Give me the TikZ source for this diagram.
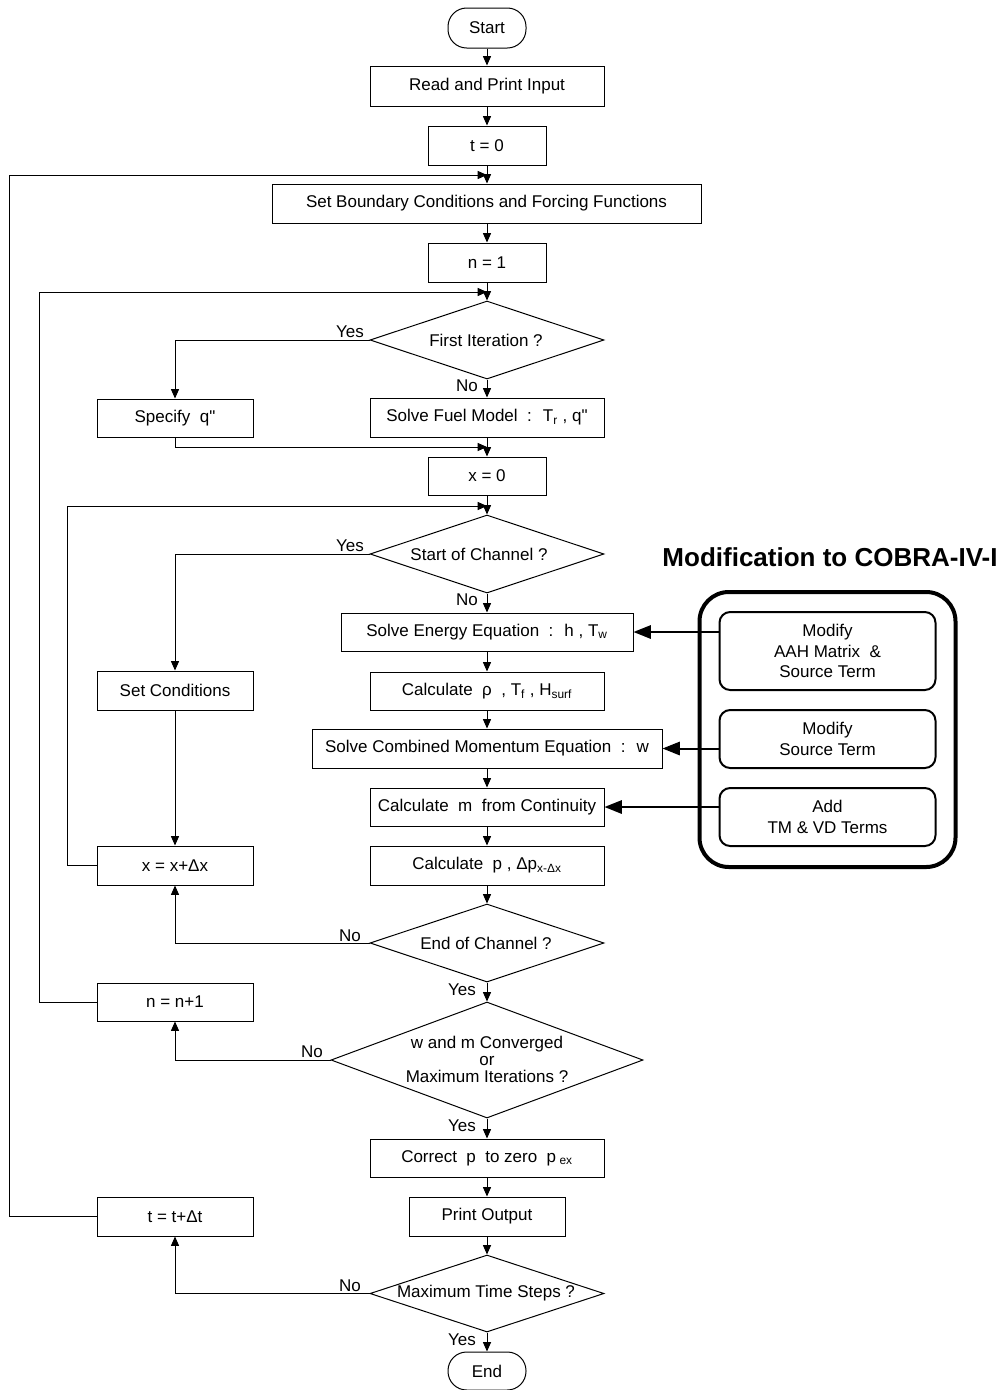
\documentclass[tikz,border=0pt]{standalone}
\usepackage{fontspec}
\setmainfont{Liberation Sans}[Ligatures=TeXOff]
\usetikzlibrary{arrows.meta,shapes.geometric}
\newcommand\fsz{\fontsize{12.75}{13}\selectfont}
\newcommand\sbs[1]{\textsubscript{#1}}
\begin{document}
\begin{tikzpicture}[x=0.75pt,y=-0.75pt,
 every node/.style={font=\fsz, inner sep=0pt},
 pbox/.style n args={2}{draw, line width=0.75pt, rectangle, minimum width=#1*0.75pt, minimum height=#2*0.75pt},
 term/.style n args={2}{pbox={#1}{#2}, rounded corners=14pt},
 dia/.style n args={2}{draw, line width=0.75pt, diamond, minimum width=#1*0.75pt, minimum height=#2*0.75pt},
 flow/.style={line width=0.75pt, -{Triangle[length=7pt,width=6pt]}},
 plain/.style={line width=0.75pt},
 mbox/.style n args={2}{pbox={#1}{#2}, line width=1.5pt, rounded corners=8pt, align=center, font=\fontsize{12.75}{15.4}\selectfont},
 bigarrow/.style={line width=1.5pt, -{Triangle[length=13pt,width=10pt]}}
]
\useasboundingbox (0,0) rectangle (1002,1390);

% main column
\node[term={78}{40}] (start) at (487,28) {Start};
\node[pbox={234}{40}] (read) at (487,86) {Read and Print Input};
\node[pbox={118}{39}] (t0) at (487,145.5) {t = 0};
\node[pbox={429}{39}] (sbc) at (486.5,203.5) {Set Boundary Conditions and Forcing Functions};
\node[pbox={118}{39}] (n1) at (487,262.5) {n = 1};
\node[dia={234}{78}] (d1) at (487,340) {};
\node (d1t) at (486,340) {First Iteration ?};
\node[pbox={156}{38}] (spec) at (175,418) {Specify~ q"};
\node[pbox={234}{39}] (fuel) at (487,417.5) {Solve Fuel Model~ :~ T\sbs{r} , q"};
\node[pbox={118}{38}] (x0) at (487,476) {x = 0};
\node[dia={234}{78}] (d2) at (487,554) {};
\node (d2t) at (479,554) {Start of Channel ?};
\node[pbox={292}{38}] (energy) at (487,632) {Solve Energy Equation~ :~ h , T\sbs{w}};
\node[pbox={156}{39}] (setc) at (175,690.5) {Set Conditions};
\node[pbox={234}{38}] (calcrho) at (487,691) {Calculate~ ρ~ , T\sbs{f} , H\sbs{surf}};
\node[pbox={350}{39}] (mom) at (487,748.5) {Solve Combined Momentum Equation~ :~ w};
\node[pbox={234}{38}] (cont) at (487,807) {Calculate~ m~ from Continuity};
\node[pbox={156}{39}] (xdx) at (175,865.5) {x = x+Δx};
\node[pbox={234}{39}] (calcp) at (487,865.5) {Calculate~ p , Δp\sbs{x-Δx}};
\node[dia={234}{78}] (d3) at (487,943) {};
\node (d3t) at (486,943) {End of Channel ?};
\node[pbox={156}{38}] (nn) at (175,1002) {n = n+1};
\node[dia={312}{116}] (d4) at (487,1060) {};
\node[align=center, font=\fontsize{12.75}{12.75}\selectfont] (d4t) at (487,1059) {w and m Converged\\or\\Maximum Iterations ?};
\node[pbox={234}{38}] (correct) at (487,1158) {Correct~ p~ to zero~ p\sbs{~ex}};
\node[pbox={156}{39}] (tdt) at (175,1216.5) {t = t+Δt};
\node[pbox={156}{39}] (print) at (487,1216.5) {Print Output};
\node[dia={234}{77}] (d5) at (487,1293.5) {};
\node (d5t) at (486,1293.5) {Maximum Time Steps ?};
\node[term={78}{38}] (end) at (487,1371) {End};

% junction points
\coordinate (j1) at (487,175);
\coordinate (j2) at (487,292);
\coordinate (j3) at (487,447);
\coordinate (j4) at (487,506);

% main flow
\draw[flow] (start.south) -- (read.north);
\draw[flow] (read.south) -- (t0.north);
\draw[flow] (t0.south) -- (sbc.north -| t0.south);
\draw[flow] (sbc.south -| n1.north) -- (n1.north);
\draw[flow] (n1.south) -- (d1.north);
\draw[flow] (d1.south) -- (fuel.north);
\draw[flow] (fuel.south) -- (x0.north);
\draw[flow] (x0.south) -- (d2.north);
\draw[flow] (d2.south) -- (energy.north);
\draw[flow] (energy.south) -- (calcrho.north);
\draw[flow] (calcrho.south) -- (mom.north);
\draw[flow] (mom.south) -- (cont.north);
\draw[flow] (cont.south) -- (calcp.north);
\draw[flow] (calcp.south) -- (d3.north);
\draw[flow] (d3.south) -- (d4.north);
\draw[flow] (d4.south) -- (correct.north);
\draw[flow] (correct.south) -- (print.north);
\draw[flow] (print.south) -- (d5.north);
\draw[flow] (d5.south) -- (end.north);

% branches
\draw[flow] (d1.west) -| (spec.north);
\draw[flow] (spec.south) |- (j3);
\draw[flow] (d2.west) -| (setc.north);
\draw[flow] (setc.south) -- (xdx.north);
\draw[flow] (d3.west) -| (xdx.south);
\draw[flow] (d4.west) -| (nn.south);
\draw[flow] (d5.west) -| (tdt.south);

% loops back
\draw[flow] (tdt.west) -- ++(-87,0) |- (j1);
\draw[flow] (nn.west) -- ++(-57,0) |- (j2);
\draw[flow] (xdx.west) -- ++(-29,0) |- (j4);

% yes / no labels
\node (y1) at (350,332) {Yes};
\node (no1) at (467,386) {No};
\node (y2) at (350,546) {Yes};
\node (no2) at (467,600) {No};
\node (no3) at (350,936) {No};
\node (y3) at (462,990) {Yes};
\node (no4) at (312,1052) {No};
\node (y4) at (462,1126) {Yes};
\node (no5) at (350,1286) {No};
\node (y5) at (462,1340) {Yes};

% modification block
\node[font=\fontsize{19.5}{20}\selectfont\bfseries] (title) at (830,557) {Modification to COBRA-IV-I};
\node[pbox={256}{275}, line width=3pt, rounded corners=22pt] (outer) at (827.5,729.5) {};
\node[mbox={216}{78}] (mb1) at (827.5,651) {Modify\\AAH Matrix~ \&\\Source Term};
\node[mbox={216}{58}] (mb2) at (827.5,739) {Modify\\Source Term};
\node[mbox={216}{58}] (mb3) at (827.5,817) {Add\\TM \& VD Terms};
\draw[bigarrow] (mb1.west |- energy.east) -- (energy.east);
\draw[bigarrow] (mb2.west |- mom.east) -- (mom.east);
\draw[bigarrow] (mb3.west |- cont.east) -- (cont.east);
\end{tikzpicture}
\end{document}
